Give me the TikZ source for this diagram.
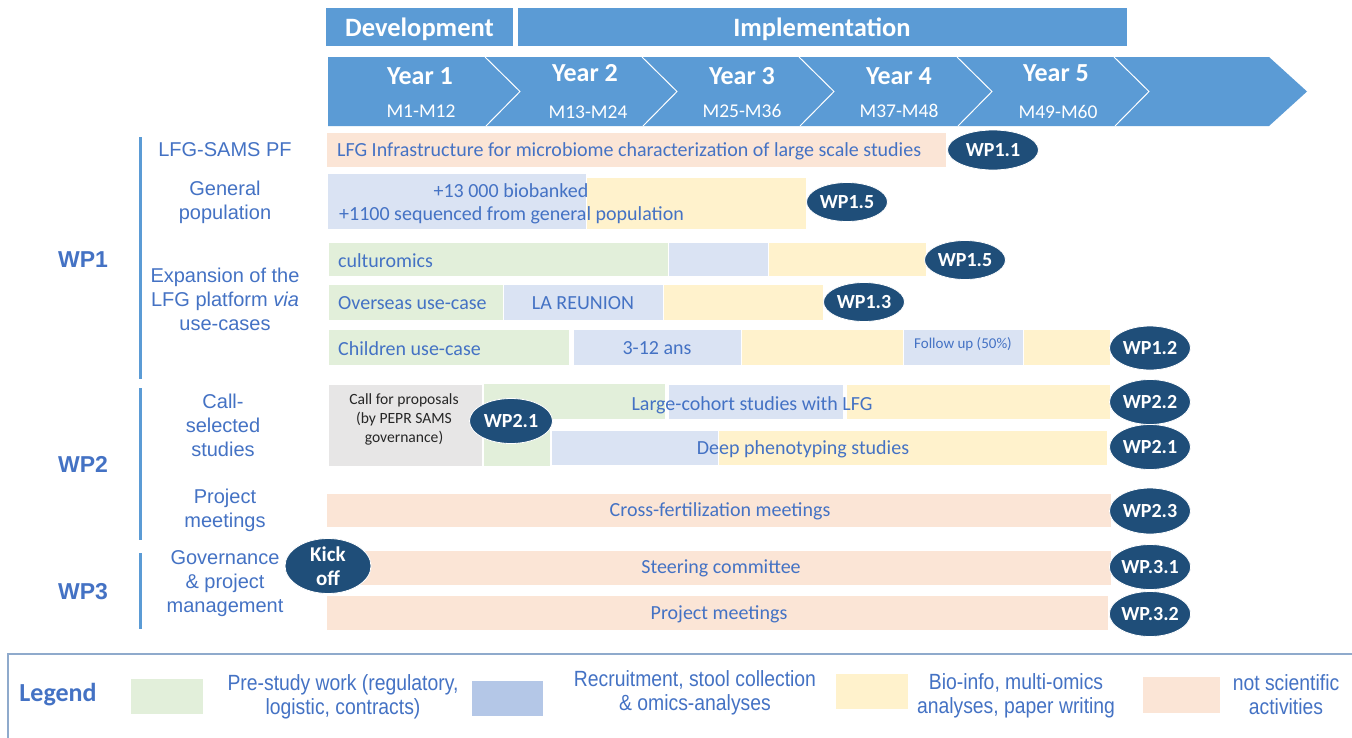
\documentclass[tikz,border=0pt]{standalone}
\usepackage{fontspec}
\setmainfont{Carlito}
\newfontfamily\arialf{Liberation Sans}
\newfontfamily\narrowf[FakeStretch=0.88]{Liberation Sans}
\usetikzlibrary{shapes.geometric}
\definecolor{hblue}{HTML}{5B9BD5}
\definecolor{navy}{HTML}{1F4E79}
\definecolor{tblue}{HTML}{4472C4}
\definecolor{cpeach}{HTML}{FBE5D6}
\definecolor{cblue}{HTML}{DAE3F3}
\definecolor{cyellow}{HTML}{FFF2CC}
\definecolor{cgreen}{HTML}{E2EFDA}
\definecolor{cgrey}{HTML}{E7E6E6}
\definecolor{lblue}{HTML}{B4C7E7}
\definecolor{frame}{HTML}{8FAACC}
\definecolor{dgrey}{HTML}{262626}
\tikzset{
  hdr/.style={text=white, font=\bfseries\fontsize{26.5}{28}\selectfont, inner sep=0, yshift=-2pt},
  yr/.style={text=white, font=\bfseries\fontsize{26}{28}\selectfont, inner sep=0, yshift=-1pt},
  mo/.style={text=white, font=\fontsize{19.5}{22}\selectfont, inner sep=0},
  wpl/.style={text=tblue, font=\arialf\bfseries\fontsize{23}{26}\selectfont, inner sep=0},
  lab/.style={text=tblue, font=\arialf\fontsize{20}{24}\selectfont, align=center, inner sep=0},
  bt/.style={text=tblue, font=\fontsize{20}{22}\selectfont, inner sep=0, yshift=-1.5pt},
  btw/.style={bt, anchor=west},
  wpe/.style={ellipse, fill=navy, draw=white, line width=0.8pt, minimum width=81, minimum height=42, inner sep=0, text=white, font=\bfseries\fontsize{20}{22}\selectfont, align=center},
  sep/.style={draw=white, line width=1pt},
  bar/.style={draw=white, line width=0.6pt},
  legt/.style={text=tblue, font=\narrowf\fontsize{22}{24}\selectfont, align=center, inner sep=0},
}
\begin{document}
\begin{tikzpicture}[x=1pt,y=-1pt]
\useasboundingbox (0,0) rectangle (1352,737);
\fill[white] (0,0) rectangle (1352,737);
% header
\fill[hblue] (326,8) rectangle (513,46);
\node[hdr] (dev) at (419.5,27) {Development};
\fill[hblue] (518,8) rectangle (1127,46);
\node[hdr] (impl) at (822,27) {Implementation};
\fill[hblue] (328,57) -- (1269,57) -- (1307,91.5) -- (1269,126) -- (328,126) -- cycle;
\foreach \sx in {485,642,799,957,1114} {
  \draw[sep] (\sx,57) -- (\sx+35,91.5) -- (\sx+1,126);
}
\node[yr] (y1) at (420,75) {Year 1};
\node[mo] (m1) at (421,111) {M1-M12};
\node[yr] (y2) at (585,72) {Year 2};
\node[mo] (m2) at (588,112) {M13-M24};
\node[yr] (y3) at (742,75) {Year 3};
\node[mo] (m3) at (742,111) {M25-M36};
\node[yr] (y4) at (899,75) {Year 4};
\node[mo] (m4) at (899,111) {M37-M48};
\node[yr] (y5) at (1056,72) {Year 5};
\node[mo] (m5) at (1058,112) {M49-M60};
% left side
\fill[hblue] (138.5,137) rectangle (141.5,379);
\fill[hblue] (138.5,388) rectangle (141.5,540);
\fill[hblue] (138.5,553) rectangle (141.5,629);
\node[wpl] (wp1) at (83,260) {WP1};
\node[wpl] (wp2) at (83,464) {WP2};
\node[wpl] (wp3) at (83,592) {WP3};
\node[lab] (l1) at (225,150) {LFG-SAMS PF};
\node[lab] (l2) at (225,202) {General\\population};
\node[lab] (l3) at (225,299) {Expansion of the\\LFG platform {\itshape via}\\use-cases};
\node[lab] (l4) at (223,425) {Call-\\selected\\studies};
\node[lab] (l5) at (225,510) {Project\\meetings};
\node[lab] (l6) at (225,584) {Governance\\\& project\\management};
% WP1 bars
\fill[cpeach,bar] (326,132) rectangle (946,167);
\node[btw] (t1) at (337,150) {LFG Infrastructure for microbiome characterization of large scale studies};
\fill[cblue,bar] (327,173) rectangle (586,229);
\fill[cyellow,bar] (586,177) rectangle (806,229);
\node[bt] (t2a) at (511,189) {+13 000 biobanked};
\node[btw] (t2b) at (339,214) {+1100 sequenced from general population};
\fill[cgreen,bar] (328,242) rectangle (668,276);
\fill[cblue,bar] (668,242) rectangle (768,276);
\fill[cyellow,bar] (768,242) rectangle (926,276);
\node[btw] (t3) at (338,259) {culturomics};
\fill[cgreen,bar] (328,284) rectangle (503,320);
\fill[cblue,bar] (503,284) rectangle (663,320);
\fill[cyellow,bar] (663,284) rectangle (823,320);
\node[btw] (t4) at (338,302) {Overseas use-case};
\node[bt] (t4b) at (583,302) {LA REUNION};
\fill[cgreen,bar] (328,329) rectangle (569,365);
\fill[cblue,bar] (573,329) rectangle (741,365);
\fill[cyellow,bar] (741,329) rectangle (903,365);
\fill[cblue,bar] (903,329) rectangle (1023,365);
\fill[cyellow,bar] (1023,329) rectangle (1110,365);
\node[btw] (t5) at (338,347) {Children use-case};
\node[bt] (t5b) at (657,347) {3-12 ans};
\node[bt, font=\fontsize{15}{17}\selectfont] (t5c) at (963,343) {Follow up (50\%)};
\node[wpe, minimum width=91, minimum height=40] (e11) at (993,150) {WP1.1};
\node[wpe, minimum height=39] (e15a) at (847,202) {WP1.5};
\node[wpe, minimum height=39] (e15b) at (965,260) {WP1.5};
\node[wpe, minimum height=39] (e13) at (864,302) {WP1.3};
\node[wpe, minimum height=44] (e12) at (1150,348) {WP1.2};
% WP2 bars
\fill[cgrey,bar] (328,384) rectangle (482,466);
\node[text=dgrey, font=\fontsize{15.6}{19}\selectfont, align=center, inner sep=0] (cfp) at (404,419) {Call for proposals\\(by PEPR SAMS\\governance)};
\fill[cgreen] (484,384) rectangle (550,466);
\fill[cgreen] (550,384) rectangle (665,419);
\fill[cblue,bar] (668,384) rectangle (843,419);
\fill[cyellow,bar] (846,384) rectangle (1110,419);
\fill[cblue,bar] (551,430) rectangle (718,465);
\fill[cyellow,bar] (718,430) rectangle (1107,465);
\node[bt] (t6) at (752,404) {Large-cohort studies with LFG};
\node[bt] (t7) at (803,448) {Deep phenotyping studies};
\node[wpe, minimum width=83, minimum height=45] (e21a) at (511,421) {WP2.1};
\node[wpe, minimum height=45] (e22) at (1150,402) {WP2.2};
\node[wpe, minimum height=45] (e21b) at (1150,447) {WP2.1};
\fill[cpeach,bar] (326,493) rectangle (1111,527);
\node[bt] (t8) at (720,510) {Cross-fertilization meetings};
\node[wpe, minimum height=46] (e23) at (1150,511) {WP2.3};
% WP3 bars
\fill[cpeach,bar] (326,550) rectangle (1111,585);
\node[bt] (t9) at (721,567) {Steering committee};
\fill[cpeach,bar] (326,595) rectangle (1108,630);
\node[bt] (t10) at (719,613) {Project meetings};
\node[wpe, minimum height=45] (e31) at (1150,567) {WP.3.1};
\node[wpe, minimum height=45] (e32) at (1150,614) {WP.3.2};
\node[wpe, minimum width=86, minimum height=55, font=\bfseries\fontsize{21}{24}\selectfont] (kick) at (328,566) {Kick\\off};
% legend
\begin{scope}
\clip (0,0) rectangle (1352,737);
\draw[frame, line width=1.6pt] (8,654) rectangle (1370,760);
\end{scope}
\node[text=tblue, font=\bfseries\fontsize{26}{28}\selectfont, inner sep=0] (legend) at (58,695) {Legend};
\fill[cgreen] (131,679) rectangle (203,714);
\node[legt] (lg1) at (343,697) {Pre-study work (regulatory,\\logistic, contracts)};
\fill[lblue] (472,681) rectangle (543,716);
\node[legt] (lg2) at (695,693) {Recruitment, stool collection\\\& omics-analyses};
\fill[cyellow] (836,674) rectangle (908,709);
\node[legt] (lg3) at (1016,696) {Bio-info, multi-omics\\analyses, paper writing};
\fill[cpeach] (1143,677) rectangle (1220,713);
\node[legt] (lg4) at (1286,695) {not scientific\\activities};
\end{tikzpicture}
\end{document}
